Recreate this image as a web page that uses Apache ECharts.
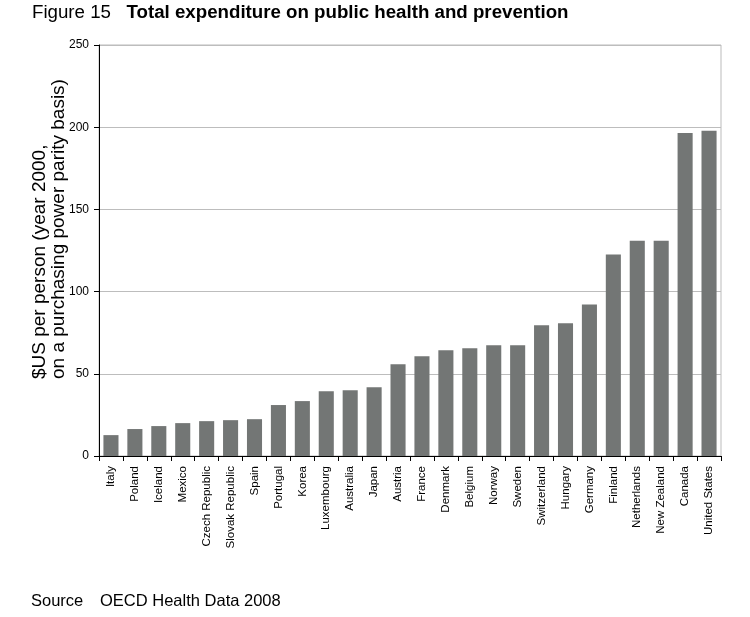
<!DOCTYPE html>
<html>
<head>
<meta charset="utf-8">
<script src="https://cdn.jsdelivr.net/npm/echarts@6/dist/echarts.min.js"></script>
<style>html,body{margin:0;padding:0;background:#fff}#c{width:750px;height:617px}</style>
</head>
<body>
<div id="c"></div>
<script>
var countries = ["Italy","Poland","Iceland","Mexico","Czech Republic","Slovak Republic","Spain","Portugal","Korea","Luxembourg","Australia","Japan","Austria","France","Denmark","Belgium","Norway","Sweden","Switzerland","Hungary","Germany","Finland","Netherlands","New Zealand","Canada","United States"];
var spending = [12.7,16.4,18.2,20,21.2,21.8,22.4,31,33.4,39.4,40,41.8,55.8,60.7,64.3,65.5,67.3,67.3,79.5,80.7,92.2,122.6,131,131,196.4,197.8];
var yTicks = {min:0, max:250, interval:50};
var FONT = "'Liberation Sans',Arial,sans-serif";

var chart = echarts.init(document.getElementById('c'), null, {renderer:'canvas'});
chart.setOption({
  animation:false,
  backgroundColor:'#fff',
  title:{
    left:32, top:3, padding:0,
    text:'{a|Figure 15}   {b|Total expenditure on public health and prevention}',
    textStyle:{
      fontWeight:'normal', fontSize:18.7,
      rich:{
        a:{fontFamily:FONT, fontSize:18.7, fontWeight:'normal', color:'#000'},
        b:{fontFamily:FONT, fontSize:18.7, fontWeight:'bold', color:'#000'}
      }
    }
  },
  graphic:[
    {type:'text', left:31, top:593, style:{text:'Source', font:"16.5px "+FONT, fill:'#000'}},
    {type:'text', left:100, top:593, style:{text:'OECD Health Data 2008', font:"16.5px "+FONT, fill:'#000'}},
    {type:'text', x:49.5, y:379, rotation:Math.PI/2,
     style:{text:'$US per person (year 2000,\non a purchasing power parity basis)', font:"19px "+FONT, lineHeight:19.5, align:'left', verticalAlign:'middle', fill:'#000'}}
  ],
  grid:{left:99, right:29, top:45, bottom:161, show:true, borderColor:'#bbb', borderWidth:1, backgroundColor:'transparent'},
  xAxis:{
    type:'category', data:countries,
    axisLine:{lineStyle:{color:'#000', width:1}},
    axisTick:{show:true, alignWithLabel:false, length:5, lineStyle:{color:'#000'}},
    axisLabel:{rotate:90, interval:0, margin:10, color:'#000', fontSize:11.5, fontFamily:FONT}
  },
  yAxis:{
    type:'value', min:yTicks.min, max:yTicks.max, interval:yTicks.interval,
    axisLine:{show:true, lineStyle:{color:'#000', width:1}},
    axisTick:{show:true, length:5, lineStyle:{color:'#000'}},
    axisLabel:{color:'#000', fontSize:12, margin:10, fontFamily:FONT},
    splitLine:{lineStyle:{color:'#bdbdbd', width:1}}
  },
  series:[{
    type:'bar', data:spending, barCategoryGap:'37%',
    itemStyle:{color:'#737675'}
  }]
});
</script>
</body>
</html>
